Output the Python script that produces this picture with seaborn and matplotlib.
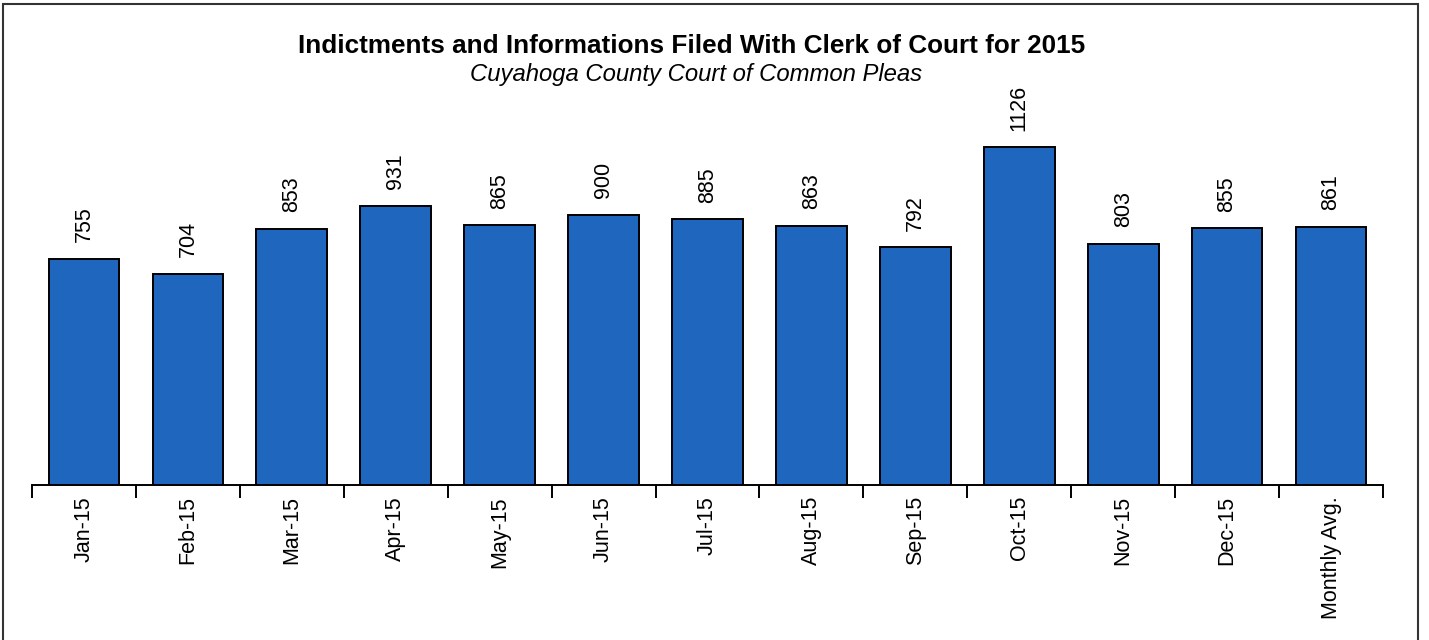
import matplotlib
matplotlib.use("Agg")
import matplotlib.pyplot as plt
import seaborn as sns
import pandas as pd
from matplotlib.patches import Rectangle

months = ["Jan-15", "Feb-15", "Mar-15", "Apr-15", "May-15", "Jun-15", "Jul-15",
          "Aug-15", "Sep-15", "Oct-15", "Nov-15", "Dec-15", "Monthly Avg."]
filed = [755, 704, 853, 931, 865, 900, 885, 863, 792, 1126, 803, 855, 861]

title = "Indictments and Informations Filed With Clerk of Court for 2015"
subtitle = "Cuyahoga County Court of Common Pleas"

sns.set_style("white")
plt.rcParams['font.family'] = ['Liberation Sans', 'DejaVu Sans']
plt.rcParams['text.color'] = 'black'
plt.rcParams['xtick.color'] = 'black'

df = pd.DataFrame({"month": months, "filed": filed})

fig = plt.figure(figsize=(14.29, 6.4), dpi=100)
ax = fig.add_axes([32 / 1429, 155 / 640, (1383 - 32) / 1429, 360 / 640])

sns.barplot(data=df, x="month", y="filed", color="#1F66BF", saturation=1,
            edgecolor="black", linewidth=1.4, width=0.68, ax=ax)

ax.bar_label(ax.containers[0], rotation=90, padding=12, fontsize=15.5)

ax.set_ylim(0, 1200)
ax.set_xlim(-0.5, len(months) - 0.5)
ax.set_xlabel("")
ax.set_ylabel("")
ax.set_yticks([])

# category boundaries get the tick marks, labels sit in the middle
ax.set_xticks([i - 0.5 for i in range(len(months) + 1)], minor=True)
ax.tick_params(axis="x", which="minor", bottom=True, length=9, width=1.4,
               direction="out", color="black")
ax.tick_params(axis="x", which="major", bottom=True, length=0, pad=8,
               labelsize=15.5, labelrotation=90, labelcolor="black")

for s in ["top", "right", "left"]:
    ax.spines[s].set_visible(False)
ax.spines["bottom"].set_color("black")
ax.spines["bottom"].set_linewidth(1.4)

fig.text(0.484, 1 - 46 / 640, title, ha="center", va="center",
         fontsize=18.8, fontweight="bold", color="black")
fig.text(0.487, 1 - 75 / 640, subtitle, ha="center", va="center",
         fontsize=17.2, style="italic", color="black")

# page frame from the scanned report
fig.add_artist(Rectangle((3 / 1429, -0.05), (1418 - 3) / 1429, 1.05 - 4 / 640,
                         transform=fig.transFigure, fill=False,
                         edgecolor="#333333", linewidth=1.5))

fig.savefig("out.png", dpi=100)
